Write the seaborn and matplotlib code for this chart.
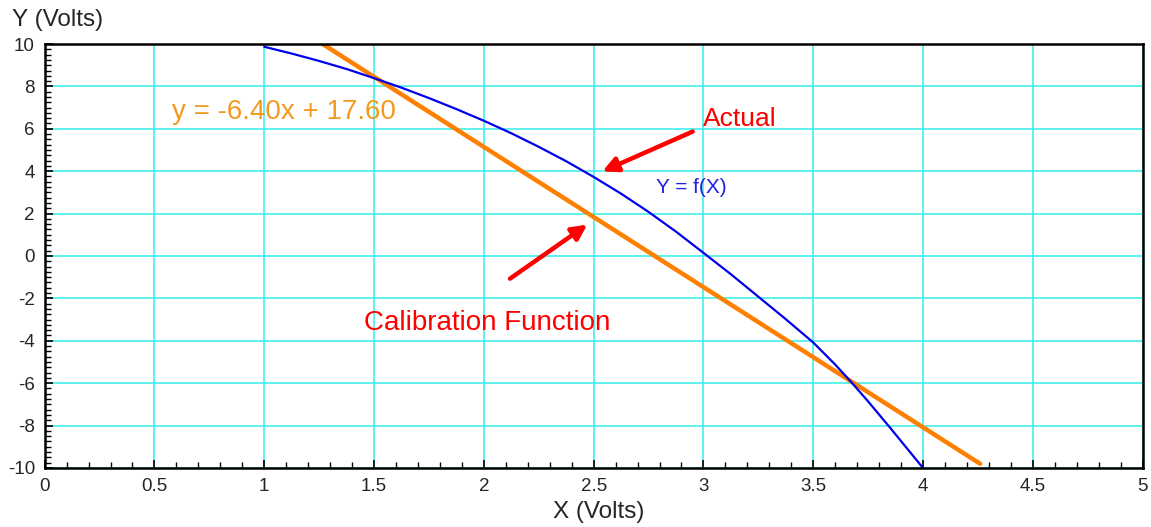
import pandas as pd
import matplotlib.pyplot as plt
import seaborn as sns
from matplotlib.ticker import MultipleLocator, FuncFormatter

# Actual sensor response Y = f(X)
actual_x = [1.0, 1.125, 1.25, 1.375, 1.5, 1.625, 1.75, 1.875, 2.0, 2.125, 2.25, 2.375,
            2.5, 2.625, 2.75, 2.875, 3.0, 3.125, 3.25, 3.375, 3.5, 3.6, 3.675, 3.75,
            3.85, 3.925, 4.0]
actual_y = [9.87, 9.55, 9.2, 8.82, 8.39, 7.94, 7.45, 6.93, 6.38, 5.79, 5.15, 4.47,
            3.73, 2.94, 2.08, 1.15, 0.15, -0.86, -1.92, -2.98, -4.08, -5.12, -5.97, -6.86,
            -8.1, -9.05, -10.0]

# Calibration line as drawn (end points)
calib_x = [1.266, 4.26]
calib_y = [10.0, -9.8]

eq_label = "y = -6.40x + 17.60"

actual_df = pd.DataFrame({"x": actual_x, "y": actual_y})
calib_df = pd.DataFrame({"x": calib_x, "y": calib_y})

sns.set_style("white")
plt.rcParams["font.family"] = ["Liberation Sans", "DejaVu Sans"]
plt.rcParams["axes.unicode_minus"] = False

fig = plt.figure(figsize=(11.51, 5.27), dpi=100)
ax = fig.add_axes([0.0388, 0.112, 0.9539, 0.8045])

grid_col = "#33eeee"
ax.grid(True, which="major", color=grid_col, linewidth=1.1)
ax.set_axisbelow(True)

sns.lineplot(data=calib_df, x="x", y="y", ax=ax, color="#ff8000", linewidth=3.2,
             sort=False, solid_capstyle="round")
sns.lineplot(data=actual_df, x="x", y="y", ax=ax, color="#0000ee", linewidth=1.6,
             sort=False)

ax.set_xlim(0, 5)
ax.set_ylim(-10, 10)
ax.xaxis.set_major_locator(MultipleLocator(0.5))
ax.xaxis.set_minor_locator(MultipleLocator(0.1))
ax.yaxis.set_major_locator(MultipleLocator(2))
ax.yaxis.set_minor_locator(MultipleLocator(0.25))
fmt = FuncFormatter(lambda v, p: f"{v:g}")
ax.xaxis.set_major_formatter(fmt)
ax.yaxis.set_major_formatter(fmt)

for s in ax.spines.values():
    s.set_color("black")
    s.set_linewidth(1.8)

ax.tick_params(which="both", direction="in", color="black", labelsize=13.5,
               bottom=True, left=True, top=False, right=False)
ax.tick_params(which="major", length=6, width=1.2, pad=7)
ax.tick_params(which="minor", length=4, width=1.0)

ax.set_xlabel("")
ax.set_ylabel("")
fig.text(0.0105, 0.962, "Y (Volts)", fontsize=17.5, ha="left", va="center")
fig.text(0.52, 0.028, "X (Volts)", fontsize=17.5, ha="center", va="center")

ax.text(0.579, 6.8, eq_label, color="#f39a1e", fontsize=20, ha="left", va="center")
ax.text(3.0, 6.45, "Actual", color="#ff0000", fontsize=19, ha="left", va="center")
ax.text(2.785, 3.22, "Y = f(X)", color="#2020e0", fontsize=15, ha="left", va="center")
ax.text(1.455, -3.18, "Calibration Function", color="#ff0000", fontsize=20,
        ha="left", va="center")

arrow = dict(arrowstyle="-|>,head_length=0.9,head_width=0.45", color="#ff0000",
             lw=3.2, shrinkA=0, shrinkB=0)
ax.annotate("", xy=(2.54, 3.99), xytext=(2.951, 5.87), arrowprops=arrow)
ax.annotate("", xy=(2.471, 1.48), xytext=(2.119, -1.07), arrowprops=arrow)

fig.savefig("out.png", dpi=100)
